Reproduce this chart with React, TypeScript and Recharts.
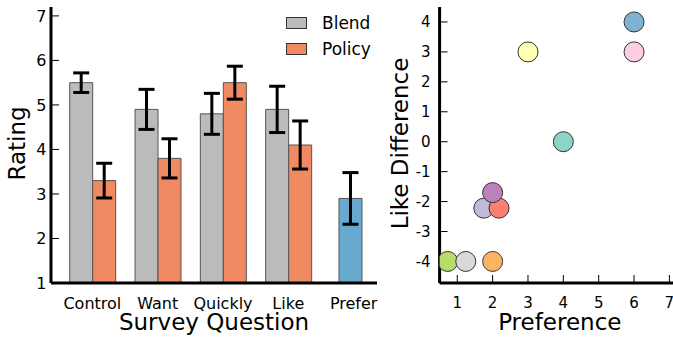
import {
  Bar,
  BarChart,
  Cell,
  ErrorBar,
  Legend,
  Scatter,
  ScatterChart,
  XAxis,
  YAxis,
} from 'recharts';

const questions = ['Control', 'Want', 'Quickly', 'Like', 'Prefer'];
const blendMeans = [5.5, 4.9, 4.8, 4.9, null];
const blendErrs = [0.22, 0.45, 0.46, 0.52, null];
const policyMeans = [3.3, 3.8, 5.5, 4.1, null];
const policyErrs = [0.39, 0.44, 0.37, 0.54, null];
const preferMeans = [null, null, null, null, 2.9];
const preferErrs = [null, null, null, null, 0.58];
const ratingTicks = [1, 2, 3, 4, 5, 6, 7];

const preference = [0.73, 1.24, 2, 1.75, 2.18, 2, 4, 3, 6, 6];
const likeDiff = [-4, -4, -4, -2.22, -2.22, -1.7, 0, 3, 3, 4];
const pointColors = [
  '#b3de69', '#d9d9d9', '#fdb462', '#bebada', '#fb8072',
  '#bc80bd', '#8dd3c7', '#ffffb3', '#fccde5', '#80b1d3',
];
const prefTicks = [1, 2, 3, 4, 5, 6, 7];
const diffTicks = [-4, -3, -2, -1, 0, 1, 2, 3, 4];

const FONT = "'DejaVu Sans', sans-serif";
const BLEND = '#bbbbbb';
const POLICY = '#ef8a62';
const PREFER = '#67a9cf';

const barData = questions.map((q, i) => ({
  q,
  blend: blendMeans[i],
  blendErr: blendErrs[i],
  policy: policyMeans[i],
  policyErr: policyErrs[i],
  prefer: preferMeans[i],
  preferErr: preferErrs[i],
}));

const points = preference.map((x, i) => ({ x, y: likeDiff[i] }));

const axisProps = {
  axisLine: { stroke: '#000', strokeWidth: 3 },
  tickLine: { stroke: '#000', strokeWidth: 1 },
};

function LegendBox() {
  const rows = [
    { name: 'Blend', color: BLEND },
    { name: 'Policy', color: POLICY },
  ];
  return (
    <div style={{ fontFamily: FONT, fontSize: 17, color: '#000' }}>
      {rows.map((r) => (
        <div key={r.name} style={{ display: 'flex', alignItems: 'center', height: 26 }}>
          <span
            style={{
              display: 'inline-block',
              width: 19,
              height: 10,
              background: r.color,
              border: '1px solid #333',
              marginRight: 15,
            }}
          />
          <span>{r.name}</span>
        </div>
      ))}
    </div>
  );
}

const xTitle = (text: string, drop: number) => (props: any) => {
  const vb = props.viewBox;
  return (
    <text
      x={vb.x + vb.width / 2}
      y={vb.y + vb.height - drop}
      textAnchor="middle"
      fontSize={23}
      fontFamily={FONT}
      fill="#000"
    >
      {text}
    </text>
  );
};

const yTitle = (text: string, baseX: number) => (props: any) => {
  const vb = props.viewBox;
  const cy = vb.y + vb.height / 2 - 1.5;
  return (
    <text
      x={baseX}
      y={cy}
      transform={`rotate(-90, ${baseX}, ${cy})`}
      textAnchor="middle"
      fontSize={23}
      fontFamily={FONT}
      fill="#000"
    >
      {text}
    </text>
  );
};

const dot = (p: any) => (
  <circle cx={p.cx} cy={p.cy} r={10} fill={p.fill} stroke="#333" strokeWidth={1} />
);

export default function App() {
  return (
    <div
      style={{
        position: 'absolute',
        left: 0,
        top: 0,
        width: 673,
        height: 337,
        overflow: 'hidden',
        background: '#fff',
        fontFamily: FONT,
      }}
    >
      <div style={{ position: 'absolute', left: 0, top: 0 }}>
        <BarChart
          width={390}
          height={337}
          data={barData}
          margin={{ top: 7, right: 13, left: 0, bottom: 0 }}
          barGap={0}
        >
          <XAxis
            dataKey="q"
            height={54}
            padding={{ left: 8.7, right: -9.3 }}
            axisLine={{ stroke: '#000', strokeWidth: 3 }}
            tickLine={false}
            tickSize={0}
            tickMargin={15}
            tick={{ fill: '#000', fontSize: 16, fontFamily: FONT }}
            interval={0}
            label={xTitle('Survey Question', 7)}
          />
          <XAxis
            xAxisId="p"
            dataKey="q"
            hide
            padding={{ left: 5.7, right: -6.3 }}
          />
          <YAxis
            width={51}
            domain={[1, 7.2]}
            ticks={ratingTicks}
            allowDataOverflow
            {...axisProps}
            tickSize={-8}
            tickMargin={12.5}
            tick={{ fill: '#000', fontSize: 16, fontFamily: FONT }}
            label={yTitle('Rating', 25)}
          />
          <Legend
            layout="vertical"
            align="center"
            verticalAlign="middle"
            wrapperStyle={{ top: 10, left: 286, width: 120 }}
            content={() => <LegendBox />}
          />
          <Bar dataKey="blend" fill={BLEND} stroke="#555" strokeWidth={1} barSize={23} isAnimationActive={false}>
            <ErrorBar dataKey="blendErr" direction="y" width={8} stroke="#000" strokeWidth={3} />
          </Bar>
          <Bar dataKey="policy" fill={POLICY} stroke="#555" strokeWidth={1} barSize={23} isAnimationActive={false}>
            <ErrorBar dataKey="policyErr" direction="y" width={8} stroke="#000" strokeWidth={3} />
          </Bar>
          <Bar
            dataKey="prefer"
            xAxisId="p"
            fill={PREFER}
            stroke="#555"
            strokeWidth={1}
            barSize={23}
            isAnimationActive={false}
          >
            <ErrorBar dataKey="preferErr" direction="y" width={8} stroke="#000" strokeWidth={3} />
          </Bar>
        </BarChart>
      </div>

      <div style={{ position: 'absolute', left: 390, top: 0 }}>
        <ScatterChart
          width={290}
          height={337}
          margin={{ top: 7, right: 0, left: 0, bottom: 0 }}
        >
          <XAxis
            type="number"
            dataKey="x"
            domain={[0.5, 7.3]}
            ticks={prefTicks}
            allowDataOverflow
            height={54}
            {...axisProps}
            tickSize={-8}
            tickMargin={22}
            tick={{ fill: '#000', fontSize: 15, fontFamily: FONT }}
            label={xTitle('Preference', 7)}
          />
          <YAxis
            type="number"
            dataKey="y"
            width={49.6}
            domain={[-4.72, 4.5]}
            ticks={diffTicks}
            allowDataOverflow
            {...axisProps}
            tickSize={-8}
            tickMargin={17}
            tick={{ fill: '#000', fontSize: 15, fontFamily: FONT }}
            label={yTitle('Like Difference', 18.3)}
          />
          <Scatter data={points} shape={dot} isAnimationActive={false}>
            {points.map((_, i) => (
              <Cell key={i} fill={pointColors[i]} />
            ))}
          </Scatter>
        </ScatterChart>
      </div>
    </div>
  );
}
